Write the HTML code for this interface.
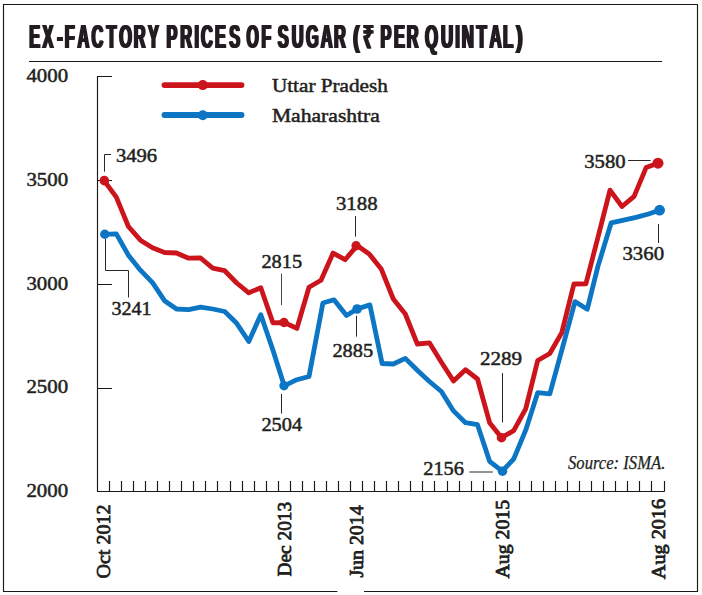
<!DOCTYPE html>
<html><head><meta charset="utf-8"><title>Ex-factory prices of sugar</title>
<style>
html,body{margin:0;padding:0;background:#fff;}
body{width:702px;height:595px;overflow:hidden;}
svg{display:block;}
.t{font-family:"Liberation Sans",sans-serif;font-weight:700;fill:#231f20;}
.s{font-family:"Liberation Serif",serif;fill:#231f20;font-size:19.4px;stroke:#231f20;stroke-width:0.5;}
.sb{font-family:"Liberation Serif",serif;fill:#231f20;font-size:19.8px;font-weight:400;stroke:#231f20;stroke-width:0.8;}
.si{font-family:"Liberation Serif",serif;fill:#231f20;font-size:18.3px;font-style:italic;stroke:#231f20;stroke-width:0.25;}
.ld{stroke:#2a2626;stroke-width:1;fill:none;}
.ln{stroke:#1c1919;stroke-width:1.15;fill:none;}
</style></head><body>
<svg width="702" height="595" viewBox="0 0 702 595">
<rect width="702" height="595" fill="#fff"/>
<!-- frame -->
<path class="ln" d="M3.5 4.5H697.5V591.5H3.5Z"/>
<!-- header rule -->
<path class="ln" d="M29 61.5H662"/>
<defs><filter id="hb" x="-2%" y="-10%" width="104%" height="120%"><feOffset dx="-1" result="a"/><feOffset in="SourceGraphic" dx="1" result="b"/><feMerge><feMergeNode in="a"/><feMergeNode in="b"/><feMergeNode in="SourceGraphic"/></feMerge></filter></defs>
<g class="t" font-size="33" filter="url(#hb)">
<text transform="scale(0.4944 1)" y="47.7" x="59.21 86.11 115.93 130.84 156.93 185.12 215.62 241.30 270.39 299.45">EX-FACTORY</text>
<text transform="scale(0.4941 1)" y="47.7" x="337.07 364.96 393.68 406.74 435.39 464.08">PRICES</text>
<text transform="scale(0.4771 1)" y="47.7" x="516.57 548.33">OF</text>
<text transform="scale(0.4951 1)" y="47.7" x="561.03 589.09 617.88 648.03 674.37">SUGAR</text>
<text font-size="29.8" transform="scale(0.6711 1)" y="47.2" x="526.12">(</text>
<text font-size="31.6" transform="scale(0.5977 1)" y="47.7" x="607.72">₹</text>
<text transform="scale(0.4949 1)" y="47.7" x="768.78 796.12 822.07">PER</text>
<text transform="scale(0.5096 1)" y="47.7" x="834.22 865.17 893.59 906.35 934.98 960.41 986.98">QUINTAL</text>
<text font-size="29.8" transform="scale(0.6827 1)" y="47.2" x="755.66">)</text>
</g>
<!-- axes -->
<path class="ln" d="M112 76.5H97.5V491.5H664.5"/>
<path class="ln" d="M97.5 180.5H112M97.5 284.5H112M97.5 388.5H112"/>
<path class="ln" d="M109.5 481V491.5M121.5 481V491.5M133.5 481V491.5M145.5 481V491.5M157.5 481V491.5M169.5 481V491.5M181.5 481V491.5M193.5 481V491.5M205.5 481V491.5M217.5 481V491.5M230.5 481V491.5M242.5 481V491.5M254.5 481V491.5M266.5 481V491.5M278.5 481V491.5M290.5 481V491.5M302.5 481V491.5M314.5 481V491.5M326.5 481V491.5M338.5 481V491.5M350.5 481V491.5M362.5 481V491.5M374.5 481V491.5M386.5 481V491.5M398.5 481V491.5M410.5 481V491.5M422.5 481V491.5M434.5 481V491.5M447.5 481V491.5M459.5 481V491.5M471.5 481V491.5M483.5 481V491.5M495.5 481V491.5M507.5 481V491.5M519.5 481V491.5M531.5 481V491.5M543.5 481V491.5M555.5 481V491.5M567.5 481V491.5M579.5 481V491.5M591.5 481V491.5M603.5 481V491.5M615.5 481V491.5M627.5 481V491.5M639.5 481V491.5M651.5 481V491.5M664.5 481V491.5"/>
<!-- y labels -->
<g class="s">
<text x="26.4" y="82.1" textLength="41.7" lengthAdjust="spacingAndGlyphs">4000</text>
<text x="26.4" y="185.9" textLength="41.7" lengthAdjust="spacingAndGlyphs">3500</text>
<text x="26.4" y="289.5" textLength="41.7" lengthAdjust="spacingAndGlyphs">3000</text>
<text x="26.4" y="392.9" textLength="41.7" lengthAdjust="spacingAndGlyphs">2500</text>
<text x="26.4" y="496.7" textLength="41.7" lengthAdjust="spacingAndGlyphs">2000</text>
</g>
<!-- legend -->
<path d="M164.5 85.1H241.5" stroke="#cb141b" stroke-width="5.9" stroke-linecap="round"/>
<circle cx="202.8" cy="85.1" r="5" fill="#cb141b"/>
<path d="M164.5 115H241.5" stroke="#0c76c4" stroke-width="5.9" stroke-linecap="round"/>
<circle cx="202.8" cy="115.2" r="5" fill="#0c76c4"/>
<text class="s" x="271.9" y="91.8" textLength="116" lengthAdjust="spacingAndGlyphs">Uttar Pradesh</text>
<text class="s" x="271.9" y="122.4" textLength="108" lengthAdjust="spacingAndGlyphs">Maharashtra</text>
<!-- leaders -->
<path class="ld" d="M104.5 171.7V154.5H111"/>
<path class="ld" d="M105.5 239V270.5H128.5V297.5"/>
<path class="ld" d="M281.5 273.5V305.2" opacity="0.85"/>
<path class="ld" d="M355.5 216V236.7"/>
<path class="ld" d="M356.5 315.8V336.6"/>
<path class="ld" d="M281.5 394V413.5"/>
<path class="ld" d="M502.5 373V422.5"/>
<path class="ld" d="M469.3 472H492.8"/>
<path class="ld" d="M628 160.5H650.6"/>
<path class="ld" d="M658.5 224V243"/>
<!-- series -->
<polyline points="105.0,234.4 116.3,233.9 128.4,255.2 140.4,270.2 152.5,282.7 164.5,300.7 176.5,309.0 188.6,309.7 200.6,307.2 212.7,309.0 224.7,311.5 236.7,323.3 248.8,341.5 260.8,314.7 272.9,350.0 284.2,385.8 296.9,379.7 309.0,376.5 322.9,303.0 334.0,299.8 346.5,315.5 357.1,309.0 369.9,304.9 382.1,363.5 393.3,364.0 405.3,358.4 417.3,370.2 429.4,381.5 441.4,391.5 453.5,410.9 465.5,422.7 477.5,424.7 489.6,461.3 502.3,471.1 513.7,459.0 525.7,430.2 537.7,392.7 549.8,393.8 562.5,347.6 575.0,301.6 587.3,309.2 597.9,266.4 611.2,222.8 622.5,220.3 636.0,217.4 648.5,214.0 659.6,210.2" fill="none" stroke="#0c76c4" stroke-width="4.8" stroke-linejoin="round" stroke-linecap="round"/>
<polyline points="104.3,180.9 116.3,197.2 128.4,226.5 140.4,240.2 152.5,247.7 164.5,252.5 176.5,253.0 188.6,258.2 200.6,258.0 212.7,268.2 224.7,270.7 236.7,283.0 248.8,292.8 260.8,287.7 272.9,322.8 284.2,322.5 296.9,328.4 309.0,287.2 321.0,280.2 333.1,253.1 345.1,259.7 357.1,245.6 369.2,253.9 381.2,268.9 393.3,299.0 405.3,314.0 417.3,344.0 429.4,342.8 441.4,362.3 453.5,381.0 465.5,369.7 477.5,379.0 489.6,422.7 501.6,437.7 513.7,430.7 525.7,408.9 537.7,360.5 549.8,353.5 561.8,332.6 573.9,284.0 585.9,283.8 597.9,237.5 610.0,190.2 622.0,206.5 634.1,196.4 646.1,167.6 658.0,163.3" fill="none" stroke="#cb141b" stroke-width="4.8" stroke-linejoin="round" stroke-linecap="round"/>
<g fill="#cb141b">
<circle cx="104.3" cy="180.6" r="4.8"/><circle cx="284" cy="322.5" r="4.7"/><circle cx="356.1" cy="245.8" r="4.7"/><circle cx="501.5" cy="437.7" r="4.8"/><circle cx="658" cy="163.2" r="5.5"/>
</g>
<g fill="#0c76c4">
<circle cx="104.8" cy="234.3" r="4.7"/><circle cx="284" cy="385.8" r="4.7"/><circle cx="357.1" cy="309" r="4.8"/><circle cx="502.5" cy="471.2" r="4.8"/><circle cx="659.6" cy="210.2" r="5.4"/>
</g>
<!-- value labels -->
<g class="s">
<text x="115.9" y="161.7" textLength="41.2" lengthAdjust="spacingAndGlyphs">3496</text>
<text x="111.4" y="315.4" textLength="40.2" lengthAdjust="spacingAndGlyphs">3241</text>
<text x="261.4" y="268.4" textLength="40.7" lengthAdjust="spacingAndGlyphs">2815</text>
<text x="335.9" y="210.4" textLength="41.7" lengthAdjust="spacingAndGlyphs">3188</text>
<text x="332.4" y="356.7" textLength="40.7" lengthAdjust="spacingAndGlyphs">2885</text>
<text x="261.4" y="431.2" textLength="40.7" lengthAdjust="spacingAndGlyphs">2504</text>
<text x="479.9" y="365.1" textLength="42.2" lengthAdjust="spacingAndGlyphs">2289</text>
<text x="423.2" y="475.4" textLength="40.8" lengthAdjust="spacingAndGlyphs">2156</text>
<text x="584.2" y="168.4" textLength="41.4" lengthAdjust="spacingAndGlyphs">3580</text>
<text x="622.4" y="259.9" textLength="41.7" lengthAdjust="spacingAndGlyphs">3360</text>
</g>
<text class="si" x="568" y="469.4" textLength="97.4" lengthAdjust="spacingAndGlyphs">Source: ISMA.</text>
<!-- x labels -->
<rect x="337.4" y="588" width="26.6" height="5" fill="#fff"/>
<g class="sb">
<text transform="translate(109.6 578.6) rotate(-90)" textLength="74.2" lengthAdjust="spacingAndGlyphs">Oct 2012</text>
<text transform="translate(291 576.6) rotate(-90)" textLength="74.8" lengthAdjust="spacingAndGlyphs">Dec 2013</text>
<text transform="translate(363.4 577.6) rotate(-90)" textLength="72.2" lengthAdjust="spacingAndGlyphs">Jun 2014</text>
<text transform="translate(508.8 578.6) rotate(-90)" textLength="78.8" lengthAdjust="spacingAndGlyphs">Aug 2015</text>
<text transform="translate(665.2 579.2) rotate(-90)" textLength="80.4" lengthAdjust="spacingAndGlyphs">Aug 2016</text>
</g>
</svg>
</body></html>
